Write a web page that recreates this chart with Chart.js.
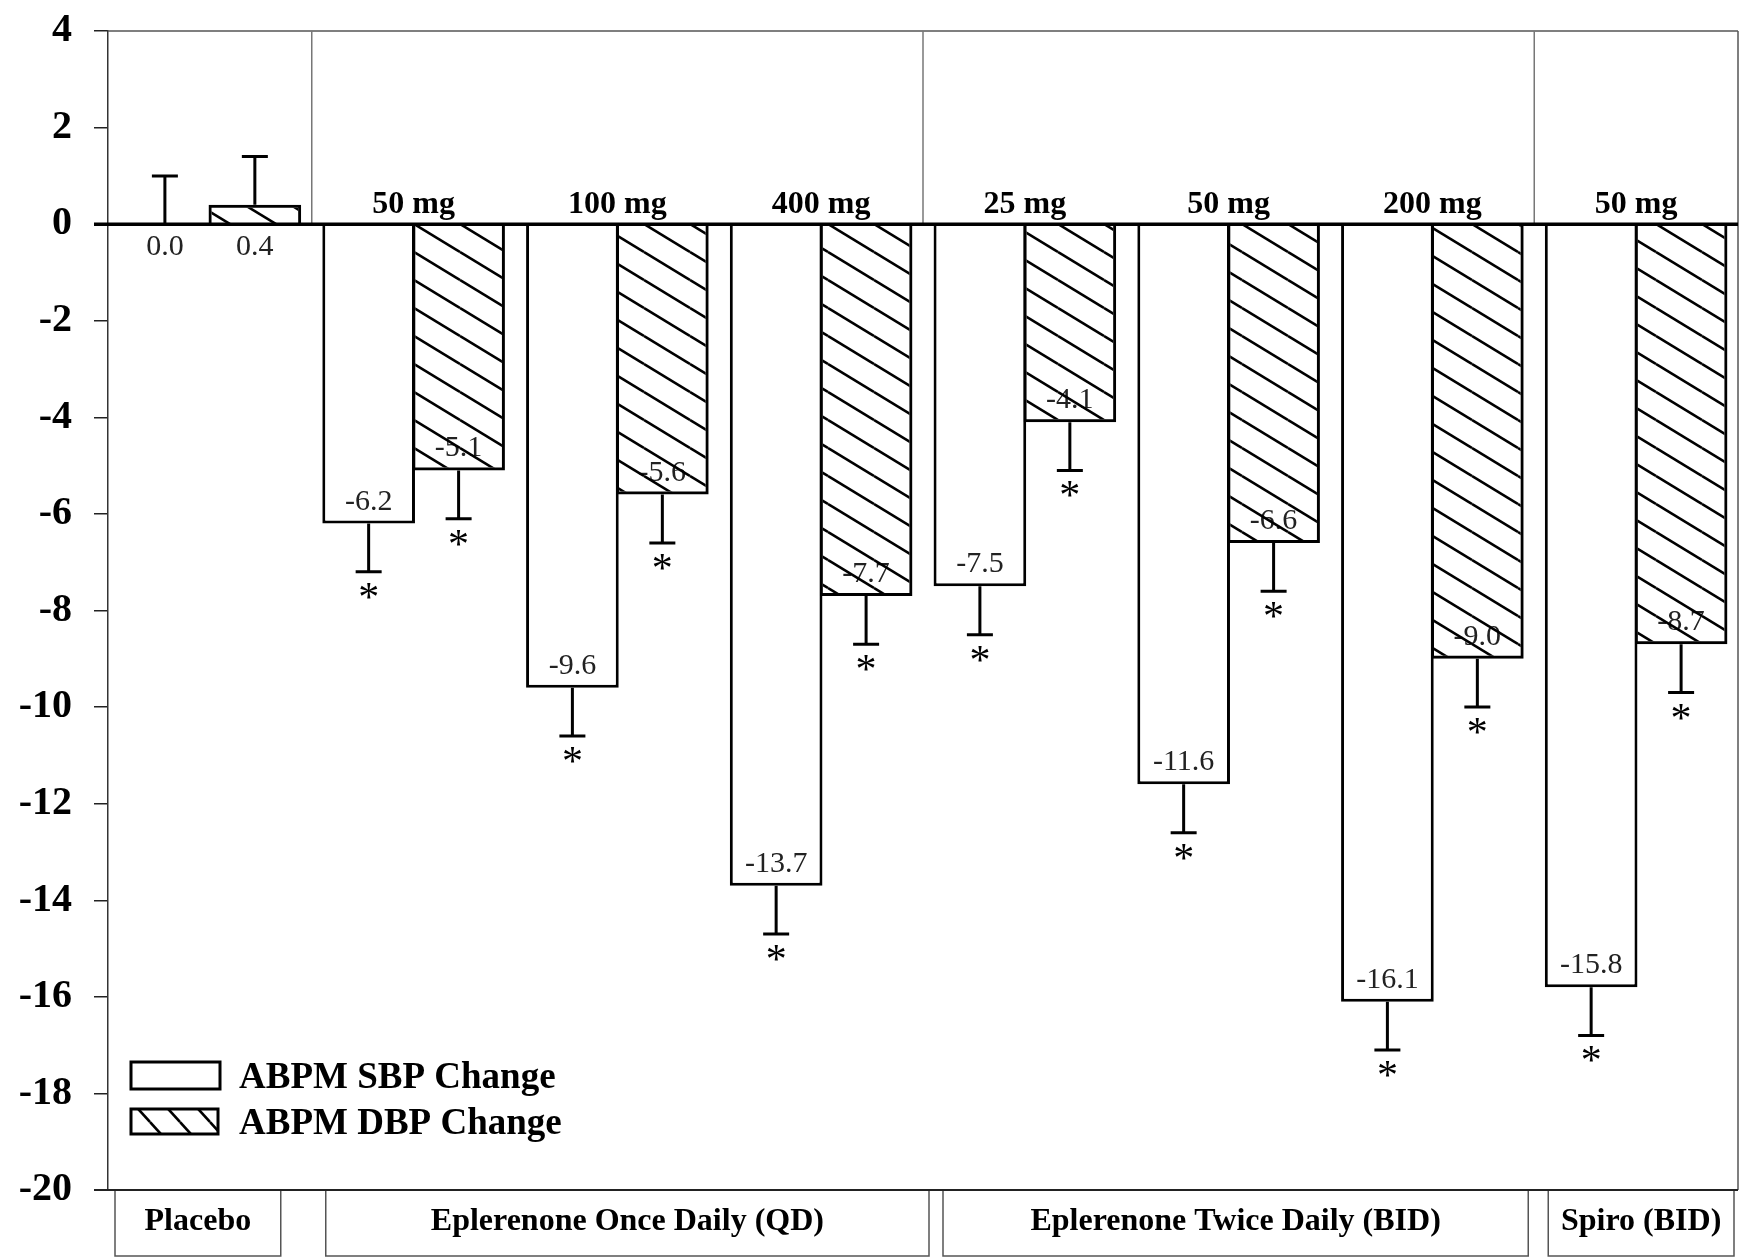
<!DOCTYPE html>
<html>
<head>
<meta charset="utf-8">
<script src="https://cdn.jsdelivr.net/npm/chart.js@4.4.1/dist/chart.umd.min.js"></script>
<style>
html,body{margin:0;padding:0;background:#fff;}
#wrap{width:1739px;height:1258px;}
</style>
</head>
<body>
<div id="wrap"><canvas id="c" width="1739" height="1258"></canvas></div>
<script>
// ---- data ----
const categories = ['Placebo','QD 50 mg','QD 100 mg','QD 400 mg','BID 25 mg','BID 50 mg','BID 200 mg','Spiro 50 mg'];
const doseLabels = ['','50 mg','100 mg','400 mg','25 mg','50 mg','200 mg','50 mg'];
const sbpValues = [0.0,-6.2,-9.6,-13.7,-7.5,-11.6,-16.1,-15.8];
const dbpValues = [0.4,-5.1,-5.6,-7.7,-4.1,-6.6,-9.0,-8.7];
const sbpErrors = [1.0,1.0,1.0,1.0,1.0,1.0,1.0,1.0];
const dbpErrors = [1.0,1.0,1.0,1.0,1.0,1.0,1.0,1.0];
const significant = [false,true,true,true,true,true,true,true];
const seriesLabels = ['ABPM SBP Change','ABPM DBP Change'];
const yTickValues = [4,2,0,-2,-4,-6,-8,-10,-12,-14,-16,-18,-20];
const groupLabels = ['Placebo','Eplerenone Once Daily (QD)','Eplerenone Twice Daily (BID)','Spiro (BID)'];
const groupStart = [0,1,4,7];
const groupEnd = [0,3,6,7];

// ---- styling helpers ----
const FONT = "'Liberation Serif', 'Times New Roman', serif";
const mainCanvas = document.getElementById('c');
const mainCtx = mainCanvas.getContext('2d');
function makeHatch(W, H, lw) {
  const t = document.createElement('canvas');
  t.width = W; t.height = H;
  const g = t.getContext('2d');
  g.strokeStyle = '#000'; g.lineWidth = lw;
  [[0,0],[-W,0],[W,0],[0,-H],[0,H]].forEach(([dx,dy]) => {
    g.beginPath(); g.moveTo(dx, dy); g.lineTo(W + dx, H + dy); g.stroke();
  });
  return mainCtx.createPattern(t, 'repeat');
}
const hatch = makeHatch(46, 28, 2.6);
const legendHatch = makeHatch(30, 33, 2.6);

const boxOffsets = [[7,-31],[14,6],[20,-6],[14,-4]];

function boundaryPx(x, a, i) {
  if (i <= 0) return a.left;
  if (i >= categories.length) return a.right;
  return (x.getPixelForValue(i - 1) + x.getPixelForValue(i)) / 2;
}

const VALUE_FONT = '30px ' + FONT;

const deco = {
  id: 'deco',
  beforeDatasetsDraw(chart) {
    const ctx = chart.ctx;
    const meta = chart.getDatasetMeta(1);
    ctx.save();
    ctx.font = VALUE_FONT;
    ctx.fillStyle = '#222';
    ctx.textAlign = 'center';
    ctx.textBaseline = 'alphabetic';
    meta.data.forEach((el, i) => {
      const v = dbpValues[i];
      if (v < 0) ctx.fillText(v.toFixed(1), el.x, el.y - 14);
    });
    ctx.restore();
  },
  afterDatasetsDraw(chart) {
    const ctx = chart.ctx;
    const a = chart.chartArea;
    const x = chart.scales.x, y = chart.scales.y;
    const y0 = y.getPixelForValue(0);
    ctx.save();

    // frame
    ctx.strokeStyle = '#555';
    ctx.lineWidth = 1.5;
    ctx.beginPath();
    ctx.moveTo(a.left, a.top); ctx.lineTo(a.right, a.top);
    ctx.moveTo(a.right, a.top); ctx.lineTo(a.right, a.bottom);
    ctx.stroke();
    ctx.strokeStyle = '#222';
    ctx.lineWidth = 2;
    ctx.beginPath();
    ctx.moveTo(a.left - 14, a.bottom); ctx.lineTo(a.right, a.bottom);
    ctx.stroke();

    // group dividers above zero line
    ctx.strokeStyle = '#777';
    ctx.lineWidth = 1.5;
    for (let g = 1; g < groupStart.length; g++) {
      const bx = boundaryPx(x, a, groupStart[g]);
      ctx.beginPath(); ctx.moveTo(bx, a.top); ctx.lineTo(bx, y0); ctx.stroke();
    }

    // zero line
    ctx.strokeStyle = '#000';
    ctx.lineWidth = 3.5;
    ctx.beginPath(); ctx.moveTo(a.left - 14, y0); ctx.lineTo(a.right, y0); ctx.stroke();

    // dose labels
    ctx.fillStyle = '#000';
    ctx.font = 'bold 32px ' + FONT;
    ctx.textAlign = 'center';
    ctx.textBaseline = 'alphabetic';
    doseLabels.forEach((t, i) => {
      if (t) ctx.fillText(t, x.getPixelForValue(i), y0 - 11);
    });

    // error bars, asterisks, value labels
    const series = [[sbpValues, sbpErrors], [dbpValues, dbpErrors]];
    series.forEach(([vals, errs], d) => {
      const meta = chart.getDatasetMeta(d);
      meta.data.forEach((el, i) => {
        const v = vals[i], e = errs[i];
        const end = v >= 0 ? v + e : v - e;
        const ys = y.getPixelForValue(v), ye = y.getPixelForValue(end);
        ctx.strokeStyle = '#000';
        ctx.lineWidth = 3;
        ctx.beginPath();
        ctx.moveTo(el.x, ys); ctx.lineTo(el.x, ye);
        ctx.moveTo(el.x - 13, ye); ctx.lineTo(el.x + 13, ye);
        ctx.stroke();
        if (significant[i]) {
          ctx.font = '42px ' + FONT;
          ctx.fillStyle = '#000';
          ctx.fillText('*', el.x, ye + 39);
        }
        ctx.font = VALUE_FONT;
        ctx.fillStyle = '#222';
        if (v >= 0) {
          ctx.fillText(v.toFixed(1), el.x, y0 + 31);
        } else if (d === 0) {
          ctx.fillText(v.toFixed(1), el.x, el.y - 14);
        }
      });
    });

    // legend
    const sw = [[131, 1062, 89, 27, '#fff'], [131, 1109, 87, 25, legendHatch]];
    ctx.font = 'bold 37px ' + FONT;
    ctx.textAlign = 'left';
    sw.forEach(([lx, ly, w, h, fill], k) => {
      ctx.fillStyle = '#fff';
      ctx.fillRect(lx, ly, w, h);
      ctx.fillStyle = fill;
      ctx.fillRect(lx, ly, w, h);
      ctx.strokeStyle = '#000';
      ctx.lineWidth = 3;
      ctx.strokeRect(lx, ly, w, h);
      ctx.fillStyle = '#000';
      ctx.fillText(seriesLabels[k], 239, k === 0 ? 1088 : 1134);
    });

    // group boxes
    ctx.font = 'bold 32px ' + FONT;
    ctx.textAlign = 'center';
    groupLabels.forEach((t, g) => {
      const l = boundaryPx(x, a, groupStart[g]) + boxOffsets[g][0];
      const r = boundaryPx(x, a, groupEnd[g] + 1) + boxOffsets[g][1];
      const top = a.bottom + 1, bot = 1256;
      ctx.strokeStyle = '#555';
      ctx.lineWidth = 1.5;
      ctx.beginPath();
      ctx.moveTo(l, top); ctx.lineTo(l, bot); ctx.lineTo(r, bot); ctx.lineTo(r, top);
      ctx.stroke();
      ctx.fillStyle = '#000';
      ctx.fillText(t, (l + r) / 2, 1230);
    });

    ctx.restore();
  }
};

new Chart(mainCanvas, {
  type: 'bar',
  data: {
    labels: categories,
    datasets: [
      { label: seriesLabels[0], data: sbpValues, backgroundColor: '#fff', borderColor: '#000',
        borderWidth: 3, categoryPercentage: 0.883, barPercentage: 1.03 },
      { label: seriesLabels[1], data: dbpValues, backgroundColor: hatch, borderColor: '#000',
        borderWidth: 3, categoryPercentage: 0.883, barPercentage: 1.03 }
    ]
  },
  options: {
    responsive: false,
    animation: false,
    layout: { padding: { top: 31, bottom: 68, right: 1, left: 0 } },
    plugins: { legend: { display: false }, tooltip: { enabled: false } },
    scales: {
      x: { display: false, offset: true },
      y: {
        min: -20, max: 4,
        afterBuildTicks: s => { s.ticks = yTickValues.map(v => ({ value: v })); },
        afterFit: s => { s.width = 108; s.paddingTop = 0; s.paddingBottom = 0; },
        ticks: { font: { family: FONT, size: 40, weight: 'bold' }, color: '#000', padding: 22,
                 callback: v => String(v) },
        grid: { drawOnChartArea: false, drawTicks: true, tickLength: 14, color: '#222', lineWidth: 1.5 },
        border: { display: true, color: '#333', width: 1.5 }
      }
    }
  },
  plugins: [deco]
});
</script>
</body>
</html>
